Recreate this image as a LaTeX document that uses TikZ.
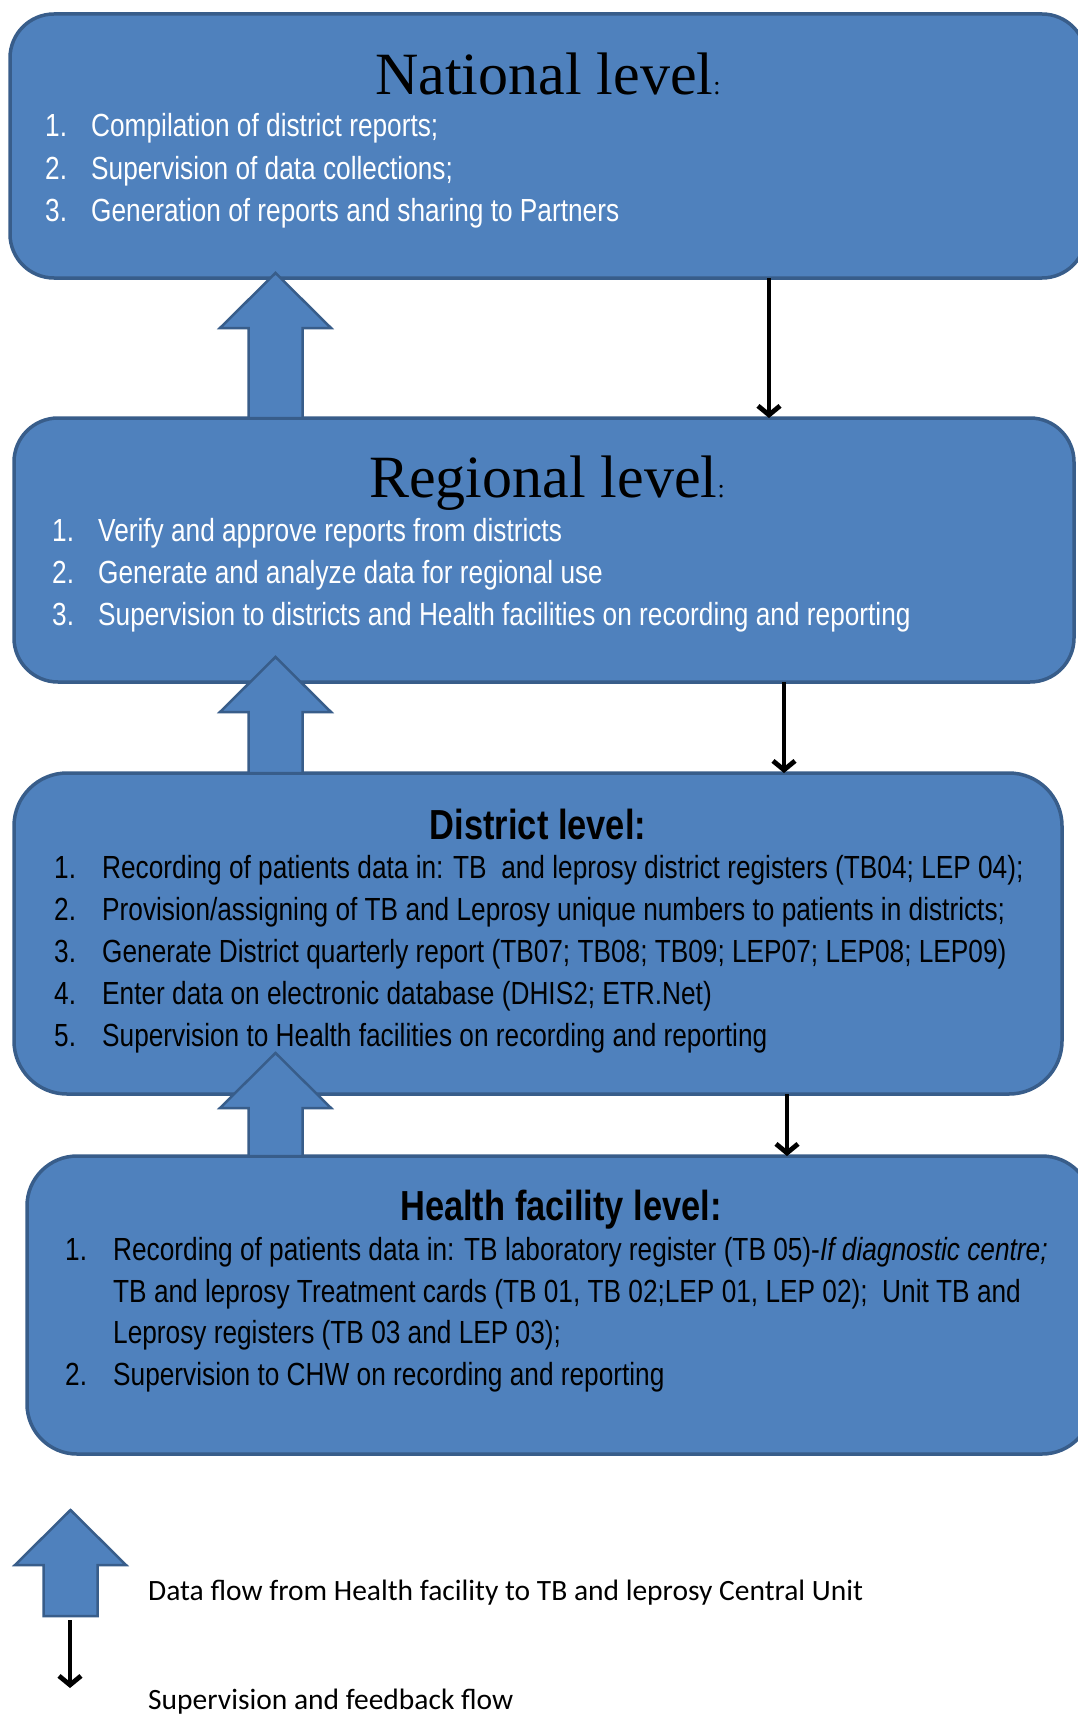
\documentclass[tikz,border=0pt]{standalone}
\usepackage{fontspec}
\setmainfont{Liberation Sans}
\newfontfamily\narrow{Liberation Sans}[FakeStretch=0.82]
\newfontfamily\titleserif{Liberation Serif}
\newfontfamily\legendfont{Carlito}
\usetikzlibrary{arrows.meta,calc}
\definecolor{boxfill}{HTML}{4F81BD}
\definecolor{boxline}{HTML}{385D8A}
\tikzset{
  levelbox/.style={draw=boxline, fill=boxfill, line width=3.5pt, inner sep=0pt, outer sep=0pt},
  blockarr/.style={draw=boxline, fill=boxfill, line width=2.5pt, line join=miter},
  supv/.style={draw=black, line width=4.8pt, -{Straight Barb[length=9pt,width=22pt]}},
  item/.style={anchor=base west, inner sep=0pt, font=\narrow\fontsize{32}{38}\selectfont},
  bigtitle/.style={anchor=base, inner sep=0pt, font=\titleserif\fontsize{60}{70}\selectfont},
  boldtitle/.style={anchor=base, inner sep=0pt, font=\narrow\bfseries\fontsize{42}{48}\selectfont},
  legtext/.style={anchor=base west, inner sep=0pt, font=\legendfont\fontsize{29.5}{34}\selectfont}
}
\newcommand\blockarrow[2]{%
  \path[blockarr] let \p1=(#1), \p2=(#2) in
    (\x1-27pt,\y1) -- (\x1-27pt,\y2-55pt) -- (\x1-55.5pt,\y2-55pt) -- (\x1,\y2)
    -- (\x1+55.5pt,\y2-55pt) -- (\x1+27pt,\y2-55pt) -- (\x1+27pt,\y1) -- cycle;}
\newcommand\smallcolon{{\fontsize{26}{26}\selectfont:}}
\begin{document}
\begin{tikzpicture}[x=1pt,y=-1pt]
\useasboundingbox (0,0) rectangle (1078,1715);
\clip (0,0) rectangle (1078,1715);
\fill[white] (0,0) rectangle (1078,1715);

% level boxes
\node[levelbox, rounded corners=44pt, minimum width=1076pt, minimum height=264pt] (nat) at (548,146) {};
\node[levelbox, rounded corners=44pt, minimum width=1060pt, minimum height=264pt] (reg) at (544,550) {};
\node[levelbox, rounded corners=53pt, minimum width=1048pt, minimum height=321pt] (dis) at (538,933.5) {};
\node[levelbox, rounded corners=50pt, minimum width=1065pt, minimum height=298pt] (hea) at (559.5,1305) {};

% national text
\node[bigtitle] (natt) at (548,95) {National level\smallcolon};
\begin{scope}[every node/.style={item, text=white}]
\node (n1n) at (45,137) {1.}; \node (n1t) at (91,137) {Compilation of district reports;};
\node (n2n) at (45,179) {2.}; \node (n2t) at (91,179) {Supervision of data collections;};
\node (n3n) at (45,221) {3.}; \node (n3t) at (91,221) {Generation of reports and sharing to Partners};
\end{scope}

% regional text
\node[bigtitle] (regt) at (547,497) {Regional level\smallcolon};
\begin{scope}[every node/.style={item, text=white}]
\node (r1n) at (52,541) {1.}; \node (r1t) at (98,541) {Verify and approve reports from districts};
\node (r2n) at (52,583) {2.}; \node (r2t) at (98,583) {Generate and analyze data for regional use};
\node (r3n) at (52,625) {3.}; \node (r3t) at (98,625) {Supervision to districts and Health facilities on recording and reporting};
\end{scope}

% district text
\node[boldtitle] (dist) at (538,839) {District level:};
\begin{scope}[every node/.style={item, text=black}]
\node (d1n) at (54,878) {1.}; \node (d1t) at (102,878) {Recording of patients data in: TB\ \ and leprosy district registers (TB04; LEP 04);};
\node (d2n) at (54,920) {2.}; \node (d2t) at (102,920) {Provision/assigning of TB and Leprosy unique numbers to patients in districts;};
\node (d3n) at (54,962) {3.}; \node (d3t) at (102,962) {Generate District quarterly report (TB07; TB08; TB09; LEP07; LEP08; LEP09)};
\node (d4n) at (54,1004) {4.}; \node (d4t) at (102,1004) {Enter data on electronic database (DHIS2; ETR.Net)};
\node (d5n) at (54,1046) {5.}; \node (d5t) at (102,1046) {Supervision to Health facilities on recording and reporting};
\end{scope}

% health facility text
\node[boldtitle] (heat) at (561,1220) {Health facility level:};
\begin{scope}[every node/.style={item, text=black}]
\node (h1n) at (65,1260) {1.}; \node (h1t) at (113,1260) {Recording of patients data in: TB laboratory register (TB 05)-\textit{If diagnostic centre;}};
\node (h1u) at (113,1302) {TB and leprosy Treatment cards (TB 01, TB 02;LEP 01, LEP 02);\ \ Unit TB and};
\node (h1v) at (113,1343) {Leprosy registers (TB 03 and LEP 03);};
\node (h2n) at (65,1385) {2.}; \node (h2t) at (113,1385) {Supervision to CHW on recording and reporting};
\end{scope}

% supervision (down) arrows
\coordinate (s1) at (769,0);
\coordinate (s2) at (784,0);
\coordinate (s3) at (787,0);
\draw[supv] (s1 |- nat.south) -- (s1 |- reg.north);
\draw[supv] (s2 |- reg.south) -- (s2 |- dis.north);
\draw[supv] (s3 |- dis.south) -- (s3 |- hea.north);

% data flow (up) block arrows
\coordinate (ax) at (275.5,0);
\coordinate (t1) at (275.5,273);
\coordinate (t2) at (275.5,657);
\coordinate (t3) at (275.5,1053);
\blockarrow{ax |- reg.north}{t1}
\blockarrow{ax |- dis.north}{t2}
\blockarrow{ax |- hea.north}{t3}

% legend
\coordinate (lb) at (70.5,1616);
\coordinate (lt) at (70.5,1510);
\blockarrow{lb}{lt}
\coordinate (ls) at (70,1620);
\coordinate (le) at (70,1688);
\draw[supv] (ls) -- (le);
\node[legtext] (leg1) at (148,1600) {Data flow from Health facility to TB and leprosy Central Unit};
\node[legtext] (leg2) at (148,1709) {Supervision and feedback flow};
\end{tikzpicture}
\end{document}
